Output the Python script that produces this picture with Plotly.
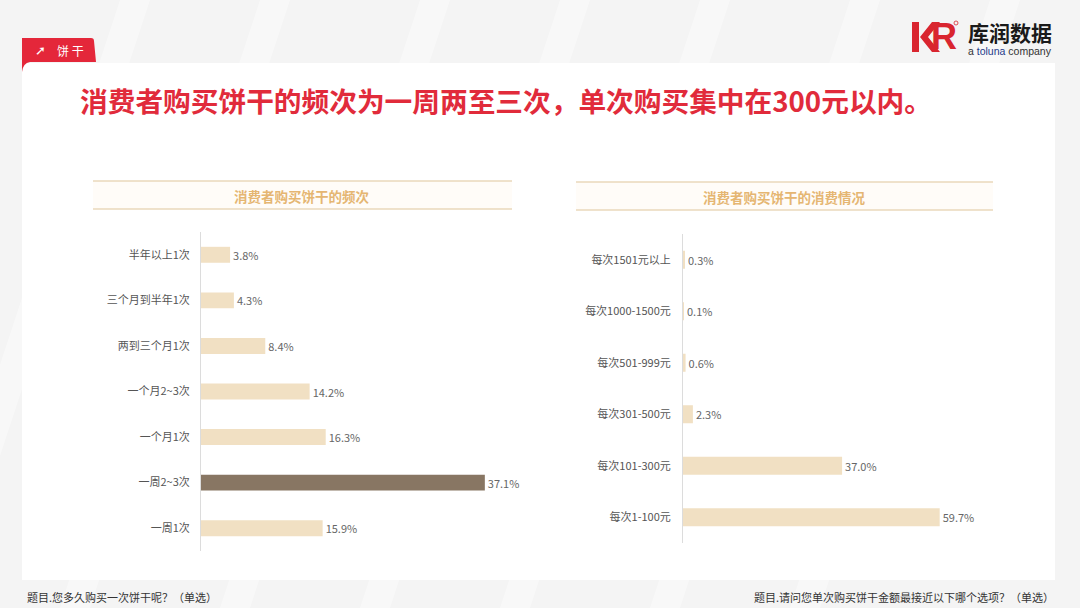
import plotly.graph_objects as go

W, H = 1080, 608

# ---------------- data ----------------
freq_labels = ["半年以上1次", "三个月到半年1次", "两到三个月1次", "一个月2~3次", "一个月1次", "一周2~3次", "一周1次"]
freq_values = [3.8, 4.3, 8.4, 14.2, 16.3, 37.1, 15.9]

spend_labels = ["每次1501元以上", "每次1000-1500元", "每次501-999元", "每次301-500元", "每次101-300元", "每次1-100元"]
spend_values = [0.3, 0.1, 0.6, 2.3, 37.0, 59.7]

title_text = "消费者购买饼干的频次为一周两至三次，单次购买集中在300元以内。"
left_title = "消费者购买饼干的频次"
right_title = "消费者购买饼干的消费情况"
left_note = "题目.您多久购买一次饼干呢？（单选）"
right_note = "题目.请问您单次购买饼干金额最接近以下哪个选项？（单选）"

FONT = "Noto Sans CJK SC"
BEIGE = "#f1e0c3"
DARK = "#887663"
GOLD = "#e5b672"
LINE = "#ead8bb"


def px(x):
    return x / W


def py(y):
    return 1 - y / H


highlight = max(freq_values)
freq_colors = [DARK if v == highlight else BEIGE for v in freq_values]

fig = go.Figure()

fig.add_trace(go.Bar(
    y=freq_labels, x=freq_values, orientation="h",
    marker=dict(color=freq_colors, line=dict(width=0)),
    width=0.35,
    text=[f"{v:.1f}%" for v in freq_values], textposition="outside",
    textfont=dict(family=FONT, size=11, color="#666666"),
    cliponaxis=False, constraintext="none",
    xaxis="x", yaxis="y", hoverinfo="skip",
))

fig.add_trace(go.Bar(
    y=spend_labels, x=spend_values, orientation="h",
    marker=dict(color=BEIGE, line=dict(width=0)),
    width=0.35,
    text=[f"{v:.1f}%" for v in spend_values], textposition="outside",
    textfont=dict(family=FONT, size=11, color="#666666"),
    cliponaxis=False, constraintext="none",
    xaxis="x2", yaxis="y2", hoverinfo="skip",
))

axis_common = dict(showgrid=False, zeroline=False, fixedrange=True)

fig.update_layout(
    width=W, height=H,
    margin=dict(l=0, r=0, t=0, b=0),
    paper_bgcolor="#f4f4f4",
    plot_bgcolor="rgba(0,0,0,0)",
    showlegend=False,
    font=dict(family=FONT, color="#555555"),
    bargap=0.5,
    xaxis=dict(domain=[px(201), px(512)], range=[0, 40.65], visible=False, **axis_common),
    yaxis=dict(domain=[py(551), py(232)], categoryorder="array", categoryarray=freq_labels,
               autorange="reversed", showline=True, linecolor="#dcdcdc", linewidth=1,
               ticks="", ticklabelstandoff=8,
               tickfont=dict(family=FONT, size=11, color="#555555"), anchor="x", **axis_common),
    xaxis2=dict(domain=[px(683), px(993)], range=[0, 72.1], visible=False, anchor="y2", **axis_common),
    yaxis2=dict(domain=[py(543), py(234)], categoryorder="array", categoryarray=spend_labels,
                autorange="reversed", showline=True, linecolor="#dcdcdc", linewidth=1,
                ticks="", ticklabelstandoff=9,
                tickfont=dict(family=FONT, size=11, color="#555555"), anchor="x2", **axis_common),
)

shapes = []
# faint diagonal stripes in background
for x0 in [120, 260, 420, 560, 700, 850, 990]:
    shapes.append(dict(type="path", xref="paper", yref="paper", layer="below",
                       path=f"M {px(x0)} {py(0)} L {px(x0+30)} {py(0)} L {px(x0-170)} {py(608)} L {px(x0-200)} {py(608)} Z",
                       fillcolor="rgba(255,255,255,0.4)", line=dict(width=0)))
# white panel
shapes.append(dict(type="rect", xref="paper", yref="paper", layer="below",
                   x0=px(22), x1=px(1055), y0=py(580), y1=py(63),
                   fillcolor="#ffffff", line=dict(width=0)))
# red tag
shapes.append(dict(type="path", xref="paper", yref="paper", layer="below",
                   path=(f"M {px(22)} {py(72)} L {px(22)} {py(38)} L {px(91)} {py(38)} "
                         f"Q {px(94)} {py(38)} {px(94)} {py(41)} L {px(96)} {py(62)} "
                         f"L {px(30)} {py(62)} Q {px(23)} {py(63)} {px(22)} {py(72)} Z"),
                   fillcolor="#e4273a", line=dict(width=0)))
# header lines
for (x0, x1, ya, yb) in [(93, 512, 181, 209), (576, 993, 182, 210)]:
    shapes.append(dict(type="rect", xref="paper", yref="paper", layer="below",
                       x0=px(x0), x1=px(x1), y0=py(yb), y1=py(ya),
                       fillcolor="#fffcf8", line=dict(width=0)))
    for yy in (ya, yb):
        shapes.append(dict(type="line", xref="paper", yref="paper",
                           x0=px(x0), x1=px(x1), y0=py(yy), y1=py(yy),
                           line=dict(color=LINE, width=1.5)))
# logo mark (stylised)
shapes.append(dict(type="rect", xref="paper", yref="paper",
                   x0=px(912), x1=px(919), y0=py(52), y1=py(22),
                   fillcolor="#d9252f", line=dict(width=0)))
shapes.append(dict(type="path", xref="paper", yref="paper",
                   path=(f"M {px(932)} {py(22)} L {px(940)} {py(22)} L {px(928)} {py(37)} "
                         f"L {px(940)} {py(52)} L {px(932)} {py(52)} L {px(920)} {py(37)} Z"),
                   fillcolor="#d9252f", line=dict(width=0)))
shapes.append(dict(type="circle", xref="paper", yref="paper",
                   x0=px(954), x1=px(958), y0=py(25), y1=py(21),
                   line=dict(color="#d9252f", width=0.8)))
fig.update_layout(shapes=shapes)

ann = []
ann.append(dict(text=title_text, x=px(78), y=py(100), xref="paper", yref="paper",
                xanchor="left", yanchor="middle", showarrow=False,
                font=dict(family=FONT, size=27.7, color="#e12b3b", weight="bold")))
ann.append(dict(text="饼 干", x=px(55), y=py(50), xref="paper", yref="paper",
                xanchor="left", yanchor="middle", showarrow=False,
                font=dict(family=FONT, size=12, color="#ffffff")))
ann.append(dict(text="<b>➚</b>", x=px(40), y=py(50), xref="paper", yref="paper",
                xanchor="center", yanchor="middle", showarrow=False,
                font=dict(family="DejaVu Sans", size=13, color="#ffffff")))
ann.append(dict(text=left_title, x=px(302), y=py(196), xref="paper", yref="paper",
                xanchor="center", yanchor="middle", showarrow=False,
                font=dict(family=FONT, size=13.5, color=GOLD, weight="bold")))
ann.append(dict(text=right_title, x=px(784), y=py(197), xref="paper", yref="paper",
                xanchor="center", yanchor="middle", showarrow=False,
                font=dict(family=FONT, size=13.5, color=GOLD, weight="bold")))
ann.append(dict(text=left_note, x=px(25), y=py(597), xref="paper", yref="paper",
                xanchor="left", yanchor="middle", showarrow=False,
                font=dict(family=FONT, size=11, color="#333333")))
ann.append(dict(text=right_note, x=px(1056), y=py(597), xref="paper", yref="paper",
                xanchor="right", yanchor="middle", showarrow=False,
                font=dict(family=FONT, size=11, color="#333333")))
# logo text
ann.append(dict(text="R", x=px(944), y=py(37), xref="paper", yref="paper",
                xanchor="center", yanchor="middle", showarrow=False,
                font=dict(family="Liberation Sans", size=36, color="#d9252f", weight="bold")))
ann.append(dict(text="库润数据", x=px(966), y=py(32), xref="paper", yref="paper",
                xanchor="left", yanchor="middle", showarrow=False,
                font=dict(family=FONT, size=21, color="#1a1a1a", weight="bold")))
ann.append(dict(text="a <span style='color:#1e3a8a'>toluna</span> company", x=px(966), y=py(51),
                xref="paper", yref="paper", xanchor="left", yanchor="middle", showarrow=False,
                font=dict(family="Liberation Sans", size=10.5, color="#333333")))
fig.update_layout(annotations=ann)

fig.write_html("out.html", config={"displayModeBar": False},
               post_script="document.body.style.margin='0';")
